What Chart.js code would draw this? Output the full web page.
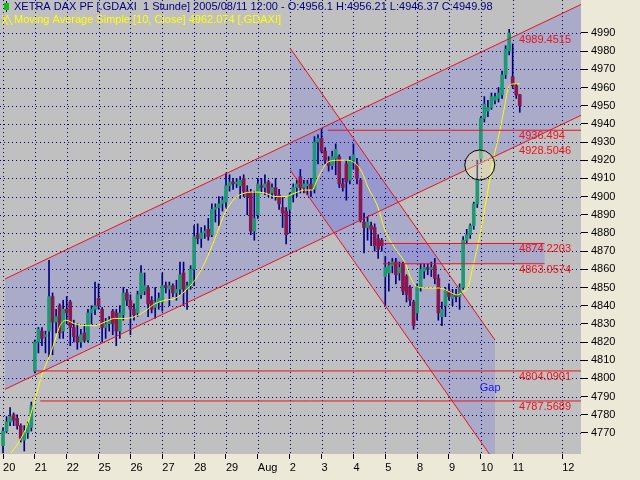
<!DOCTYPE html>
<html>
<head>
<meta charset="utf-8">
<script src="https://cdn.jsdelivr.net/npm/chart.js@4.4.0/dist/chart.umd.min.js"></script>
<style>
html, body { margin:0; padding:0; background:#ece9d8; overflow:hidden; }
</style>
</head>
<body>
<canvas id="chart" width="640" height="480"></canvas>
<script>
// hourly candles, 9 per day (last day: 3)
var dayLabels = ['20','21','22','25','26','27','28','29','Aug','2','3','4','5','8','9','10','11','12'];
var dayStart  = [0,9,18,27,36,45,54,63,72,81,90,99,108,117,126,135,144,158];
var priceTicks = [4770,4780,4790,4800,4810,4820,4830,4840,4850,4860,4870,4880,4890,4900,4910,4920,4930,4940,4950,4960,4970,4980,4990];

var opens = [
 4763,4771,4776,4780,4778,4774,4766,4770,4773,
 4804,4820,4826,4823,4826,4845,4831,4840,4826,
 4838,4842,4828,4823,4820,4825,4821,4836,4838,
 4844,4838,4828,4830,4837,4836,4826,4835,4847,
 4843,4838,4836,4846,4848,4850,4843,4839,4842,
 4842,4851,4849,4851,4847,4849,4858,4849,4851,
 4860,4879,4877,4880,4882,4879,4893,4894,4896,
 4897,4906,4908,4907,4906,4910,4903,4902,4881,
 4890,4906,4905,4908,4902,4905,4901,4894,4892,
 4893,4901,4905,4911,4905,4906,4907,4904,4930,
 4932,4925,4919,4917,4921,4922,4907,4918,4909,
 4920,4918,4909,4886,4883,4884,4883,4877,4876,
 4856,4858,4862,4864,4858,4863,4856,4850,4842,
 4836,4850,4859,4861,4860,4862,4855,4834,4840,
 4848,4844,4846,4845,4850,4876,4879,4884,4896,
 4921,4943,4947,4949,4953,4954,4956,4967,4980,
 4966,4961,4956.1];
var highs = [
 4773,4779,4784,4781,4780,4775,4774,4776,4787,
 4821,4828,4828,4826,4865,4847,4838,4841,4843,
 4845,4843,4832,4830,4827,4829,4838,4840,4853,
 4852,4839,4833,4834,4838,4838,4840,4850,4849,
 4846,4841,4848,4862,4858,4851,4845,4850,4847,
 4858,4853,4853,4852,4854,4864,4864,4853,4862,
 4884,4885,4883,4884,4888,4896,4896,4900,4900,
 4913,4912,4910,4910,4911,4912,4906,4904,4903,
 4910,4910,4912,4909,4907,4910,4904,4900,4894,
 4902,4907,4909,4915,4909,4909,4910,4933,4934,
 4937,4927,4922,4925,4929,4923,4910,4920,4922,
 4929,4921,4910,4891,4889,4886,4885,4879,4877,
 4867,4864,4866,4866,4864,4864,4857,4851,4843,
 4852,4863,4863,4863,4864,4866,4857,4842,4850,
 4852,4849,4849,4852,4878,4882,4885,4897,4920,
 4944,4955,4953,4957,4957,4960,4969,4983,4992,
 4984,4962,4956.21];
var lows = [
 4759,4770,4774,4774,4772,4765,4760,4767,4771,
 4803,4814,4818,4814,4812,4813,4825,4822,4822,
 4830,4818,4820,4816,4817,4820,4820,4830,4835,
 4838,4820,4822,4826,4824,4818,4822,4832,4840,
 4824,4832,4834,4844,4846,4834,4836,4833,4838,
 4837,4847,4840,4845,4843,4846,4840,4838,4849,
 4851,4874,4872,4877,4876,4878,4886,4884,4892,
 4894,4903,4904,4905,4899,4900,4890,4879,4876,
 4888,4902,4901,4900,4899,4898,4893,4883,4874,
 4880,4897,4900,4902,4902,4901,4900,4902,4918,
 4924,4918,4914,4915,4912,4905,4903,4898,4907,
 4915,4907,4886,4869,4876,4873,4870,4866,4870,
 4840,4848,4858,4852,4854,4846,4842,4840,4827,
 4832,4848,4855,4857,4856,4852,4832,4829,4834,
 4843,4840,4842,4838,4849,4874,4877,4882,4894,
 4919,4941,4944,4948,4951,4952,4954,4965,4978,
 4960,4954,4946.37];
var closes = [
 4771,4776,4779,4777,4774,4767,4770,4774,4785,
 4820,4827,4822,4824,4845,4831,4834,4825,4838,
 4836,4828,4823,4820,4824,4821,4836,4838,4840,
 4840,4828,4830,4832,4830,4826,4836,4847,4843,
 4838,4835,4846,4858,4851,4841,4838,4842,4844,
 4851,4850,4851,4847,4849,4857,4849,4851,4860,
 4878,4877,4880,4881,4878,4893,4894,4896,4898,
 4906,4908,4907,4908,4909,4903,4900,4881,4888,
 4907,4905,4907,4902,4905,4901,4896,4891,4879,
 4901,4905,4907,4905,4907,4907,4904,4930,4932,
 4925,4920,4917,4922,4926,4907,4905,4908,4920,
 4923,4910,4887,4883,4886,4882,4873,4871,4873,
 4861,4862,4864,4857,4861,4848,4846,4843,4829,
 4850,4860,4861,4860,4861,4855,4836,4838,4848,
 4845,4846,4845,4850,4876,4879,4884,4896,4909,
 4943,4951,4949,4955,4955,4957,4967,4981,4990,
 4961,4956,4949.98];

// moving average (10, close)
var maIdx = [2.3,4.8,6.8,9.0,11.0,13.3,14.7,16.1,17.8,20.3,23.2,26.0,28.8,31.6,34.5,37.3,40.1,42.9,45.8,48.6,51.4,54.2,57.1,59.9,62.7,65.5,68.4,71.2,74.0,76.8,79.7,82.5,85.3,87.3,88.7,90.1,91.8,94.6,97.5,100.0,101.4,103.1,105.9,107.9,110.7,113.6,115.5,117.2,120.1,123.4,126.3,128.2,129.9,131.4,132.8,134.7,136.7,138.4,140.4,141.8,142.7,144.1,146.0];
var maVal = [4759,4766,4774,4788,4802,4813,4821,4829,4832,4830,4829,4829,4831,4833,4833,4834,4837,4841,4843,4844,4848,4854,4864,4877,4891,4899,4902,4902.5,4902,4900,4900,4902,4903.6,4903.6,4909,4914.6,4919,4920,4920,4917.4,4913.5,4905.3,4894.3,4881.6,4871.7,4863.5,4854.1,4850.3,4849.7,4849.7,4847.5,4845.9,4847.5,4850.3,4861.8,4878.3,4900.3,4919,4936.6,4950.4,4959.7,4962,4962.074];

// drawing objects in (bar index, price)
var riseUpper = [[0.56,4854.7],[145.8,4989.4515]];
var riseLower = [[0.56,4794.0],[145.8,4928.5046]];
var fallUpper = [[81.1,4981.7],[139,4821.1]];
var fallLower = [[81.1,4914.6],[139,4754.0]];
var levelVals  = [4936.494, 4804.0901, 4787.5689];
var levelStart = [91.8, 9.2, 10.5];
var band = [107.3, 153, 4874.2203, 4863.0574];
var tagVals = [4989.4515, 4936.494, 4928.5046, 4874.2203, 4863.0574, 4804.0901, 4787.5689];
var tagIdx = 145.8;
var gapNote = ['Gap', 134.7, 4794.7];
var circleAt = [134.7, 4917.4];

var headerLine1 = 'XETRA DAX PF [.GDAXI  1 Stunde] 2005/08/11 12:00 - O:4956.1 H:4956.21 L:4946.37 C:4949.98';
var headerLine2 = 'Moving Average Simple [10, Close] 4962.074 [.GDAXI]';

var LAV = 'rgba(90,90,230,0.22)';
var RED = '#e8141e';
var FONT = '"Liberation Sans", Arial, sans-serif';

function yAt(l, x) { return l[0][1] + (l[1][1]-l[0][1])*(x-l[0][0])/(l[1][0]-l[0][0]); }

var drawings = {
  id: 'drawings',
  beforeDatasetsDraw: function(chart) {
    var ctx = chart.ctx, a = chart.chartArea, xs = chart.scales.x, ys = chart.scales.y;
    ctx.save();
    ctx.fillStyle = '#c0c0c0';
    ctx.fillRect(a.left, a.top, a.right - a.left, a.bottom - a.top);
    ctx.beginPath(); ctx.rect(a.left, a.top, a.right - a.left, a.bottom - a.top); ctx.clip();

    // rising channel
    var xe = xs.max;
    ctx.fillStyle = LAV;
    ctx.beginPath();
    ctx.moveTo(xs.getPixelForValue(riseUpper[0][0]), ys.getPixelForValue(riseUpper[0][1]));
    ctx.lineTo(xs.getPixelForValue(xe), ys.getPixelForValue(yAt(riseUpper, xe)));
    ctx.lineTo(xs.getPixelForValue(xe), ys.getPixelForValue(yAt(riseLower, xe)));
    ctx.lineTo(xs.getPixelForValue(riseLower[0][0]), ys.getPixelForValue(riseLower[0][1]));
    ctx.closePath(); ctx.fill();

    // falling channel
    ctx.beginPath();
    ctx.moveTo(xs.getPixelForValue(fallUpper[0][0]), ys.getPixelForValue(fallUpper[0][1]));
    ctx.lineTo(xs.getPixelForValue(fallUpper[1][0]), ys.getPixelForValue(fallUpper[1][1]));
    ctx.lineTo(xs.getPixelForValue(fallLower[1][0]), ys.getPixelForValue(fallLower[1][1]));
    ctx.lineTo(xs.getPixelForValue(fallLower[0][0]), ys.getPixelForValue(fallLower[0][1]));
    ctx.closePath(); ctx.fill();

    // band
    var bx1 = xs.getPixelForValue(band[0]), bx2 = xs.getPixelForValue(band[1]);
    var by1 = ys.getPixelForValue(band[2]), by2 = ys.getPixelForValue(band[3]);
    ctx.fillRect(bx1, by1, bx2 - bx1, by2 - by1);

    // dotted grid
    ctx.strokeStyle = '#000080';
    ctx.lineWidth = 1;
    ctx.setLineDash([1, 3]);
    priceTicks.forEach(function(p) {
      var y = Math.round(ys.getPixelForValue(p)) + 0.5;
      ctx.beginPath(); ctx.moveTo(a.left, y); ctx.lineTo(a.right, y); ctx.stroke();
    });
    dayStart.forEach(function(d) {
      var x = Math.round(xs.getPixelForValue(d)) + 0.5;
      ctx.beginPath(); ctx.moveTo(x, a.top); ctx.lineTo(x, a.bottom); ctx.stroke();
    });
    ctx.restore();
  },
  afterDatasetsDraw: function(chart) {
    var ctx = chart.ctx, a = chart.chartArea, xs = chart.scales.x, ys = chart.scales.y;
    var X = function(v) { return xs.getPixelForValue(v); };
    var Y = function(v) { return ys.getPixelForValue(v); };
    ctx.save();
    ctx.beginPath(); ctx.rect(a.left, a.top, a.right - a.left, a.bottom - a.top); ctx.clip();
    ctx.strokeStyle = RED;
    ctx.lineWidth = 1;
    function seg(x1, y1, x2, y2) { ctx.beginPath(); ctx.moveTo(X(x1), Y(y1)); ctx.lineTo(X(x2), Y(y2)); ctx.stroke(); }
    var xe = xs.max;
    seg(riseUpper[0][0], riseUpper[0][1], xe, yAt(riseUpper, xe));
    seg(riseLower[0][0], riseLower[0][1], xe, yAt(riseLower, xe));
    seg(fallUpper[0][0], fallUpper[0][1], fallUpper[1][0], fallUpper[1][1]);
    seg(fallLower[0][0], fallLower[0][1], fallLower[1][0], fallLower[1][1]);
    levelVals.forEach(function(v, i) { seg(levelStart[i], v, xe, v); });
    seg(band[0], band[2], band[1], band[2]);
    seg(band[0], band[3], band[1], band[3]);

    // circle
    ctx.beginPath();
    ctx.arc(X(circleAt[0]), Y(circleAt[1]), 15, 0, Math.PI * 2);
    ctx.fillStyle = 'rgba(255,250,170,0.35)';
    ctx.fill();
    ctx.strokeStyle = '#000';
    ctx.stroke();

    // tags
    ctx.font = '11px ' + FONT;
    ctx.textAlign = 'left';
    ctx.textBaseline = 'middle';
    ctx.fillStyle = RED;
    tagVals.forEach(function(v) { ctx.fillText(String(v), X(tagIdx), Y(v) + 6); });
    ctx.fillStyle = '#1010ff';
    ctx.fillText(gapNote[0], X(gapNote[1]), Y(gapNote[2]));
    ctx.restore();

    // header
    ctx.save();
    ctx.font = '11px ' + FONT;
    ctx.textAlign = 'left';
    ctx.textBaseline = 'middle';
    ctx.fillStyle = '#000080';
    ctx.fillText(headerLine1, 14, 7);
    ctx.fillStyle = '#ffff00';
    ctx.fillText(headerLine2, 14, 20);
    // legend icons
    ctx.fillStyle = '#000080';
    ctx.fillRect(6, 1, 1, 11);
    ctx.fillStyle = '#10c010';
    ctx.fillRect(4, 3, 5, 7);
    ctx.strokeStyle = '#ffff00';
    ctx.lineWidth = 1;
    ctx.beginPath();
    ctx.moveTo(2, 15); ctx.lineTo(8, 25); ctx.moveTo(8, 15); ctx.lineTo(2, 25);
    ctx.moveTo(7, 15); ctx.lineTo(12, 25); ctx.stroke();
    ctx.restore();
  }
};

var up = opens.map(function(o, i) { return closes[i] >= o; });
var wickData = opens.map(function(o, i) { return { x: i, y: [lows[i], highs[i]] }; });
var bodyData = opens.map(function(o, i) { return { x: i, y: [Math.min(o, closes[i]), Math.max(o, closes[i])] }; });
var maData = maIdx.map(function(x, i) { return { x: x, y: maVal[i] }; });

var canvas = document.getElementById('chart');
var chart = new Chart(canvas, {
  type: 'bar',
  data: {
    datasets: [
      { type: 'line', data: maData, borderColor: '#ffff00', borderWidth: 1, pointRadius: 0,
        cubicInterpolationMode: 'monotone', order: 0 },
      { type: 'bar', data: bodyData, grouped: false, barThickness: 3, minBarLength: 1,
        backgroundColor: up.map(function(u) { return u ? '#1c9a72' : '#8a1850'; }),
        borderWidth: 0, order: 1 },
      { type: 'bar', data: wickData, grouped: false, barThickness: 1,
        backgroundColor: '#000080', borderWidth: 0, order: 2 }
    ]
  },
  options: {
    responsive: false,
    animation: false,
    layout: { padding: 0 },
    plugins: { legend: { display: false }, tooltip: { enabled: false } },
    scales: {
      x: {
        type: 'linear', min: -0.85, max: 163.3, offset: false,
        grid: { offset: false, drawOnChartArea: false, drawTicks: true, tickLength: 5, tickColor: '#000' },
        border: { display: false },
        afterBuildTicks: function(s) { s.ticks = dayStart.map(function(v) { return { value: v }; }); },
        ticks: {
          autoSkip: false, maxRotation: 0, minRotation: 0, align: 'start', padding: 2, color: '#000',
          font: { family: FONT, size: 11 },
          callback: function(v) { return dayLabels[dayStart.indexOf(v)]; }
        },
        afterFit: function(s) { s.height = 26; s.paddingLeft = 0; s.paddingRight = 0; }
      },
      y: {
        type: 'linear', position: 'right', min: 4758.4, max: 5008.15,
        grid: { drawOnChartArea: false, drawTicks: true, tickLength: 7, tickColor: '#000' },
        border: { display: false },
        afterBuildTicks: function(s) { s.ticks = priceTicks.map(function(v) { return { value: v }; }); },
        ticks: {
          padding: 3, color: '#000', font: { family: FONT, size: 11 },
          callback: function(v) { return String(v); }
        },
        afterFit: function(s) { s.width = 59; s.paddingTop = 0; s.paddingBottom = 0; }
      }
    }
  },
  plugins: [drawings]
});
</script>
</body>
</html>
